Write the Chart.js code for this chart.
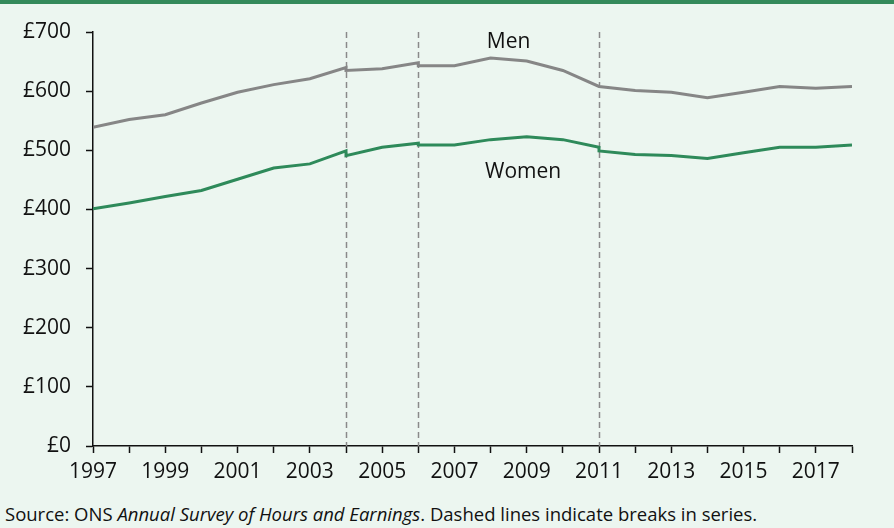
<!DOCTYPE html>
<html>
<head>
<meta charset="utf-8">
<script src="https://cdn.jsdelivr.net/npm/chart.js@4/dist/chart.umd.min.js"></script>
<style>
  html, body { margin: 0; padding: 0; }
  body { width: 894px; height: 528px; background: #ecf6f0; position: relative; overflow: hidden; font-family: 'Open Sans', sans-serif; }
  .topbar { position: absolute; left: 0; top: 0; width: 894px; height: 4px; background: #348a5b; }
  .wrap { position: absolute; left: 0; top: 4px; width: 894px; height: 492px; }
  .source { position: absolute; left: 5px; top: 501px; font-size: 18.5px; color: #111; white-space: nowrap; }
</style>
</head>
<body>
<div class="topbar"></div>
<div class="wrap"><canvas id="line-chart"></canvas></div>
<div class="source">Source: ONS <i>Annual Survey of Hours and Earnings</i>. Dashed lines indicate breaks in series.</div>
<script>
// years repeat where the series has a break (old and new basis)
let years = [1997,1998,1999,2000,2001,2002,2003,2004,2004,2005,2006,2006,2007,2008,2009,2010,2011,2011,2012,2013,2014,2015,2016,2017,2018];
let men   = [539,552,560,580,598,611,621,640,635,638,648,643,643,656,651,635,608,608,601,598,589,598,608,605,608];
let women = [401,411,422,432,451,470,477,499,491,505,512,509,509,518,523,518,505,499,493,491,486,496,505,505,509];
let breakYears = [2004,2006,2011];
let yTicks = [0,100,200,300,400,500,600,700];

let seriesLabels = [
  {text: "Men", x: 2008.5, y: 683},
  {text: "Women", x: 2008.9, y: 463}
];

function points(vals){
  return vals.map(function(v,i){ return {x: years[i], y: v}; });
}

// dashed break lines and the series names
let extras = {
  id: 'extras',
  beforeDatasetsDraw: function(chart){
    let ctx = chart.ctx, xs = chart.scales.x, ys = chart.scales.y;
    ctx.save();
    ctx.strokeStyle = '#8a8a8a';
    ctx.lineWidth = 1.5;
    ctx.setLineDash([6,4]);
    breakYears.forEach(function(yr){
      let px = Math.round(xs.getPixelForValue(yr)) + 0.5;
      ctx.beginPath();
      ctx.moveTo(px, ys.getPixelForValue(700));
      ctx.lineTo(px, ys.getPixelForValue(0));
      ctx.stroke();
    });
    ctx.restore();
  },
  afterDatasetsDraw: function(chart){
    let ctx = chart.ctx, xs = chart.scales.x, ys = chart.scales.y;
    ctx.save();
    ctx.font = "21px 'Open Sans'";
    ctx.fillStyle = '#111';
    ctx.textAlign = 'center';
    ctx.textBaseline = 'middle';
    seriesLabels.forEach(function(l){
      ctx.fillText(l.text, xs.getPixelForValue(l.x), ys.getPixelForValue(l.y));
    });
    ctx.restore();
  }
};

Chart.defaults.font.family = "'Open Sans'";
Chart.defaults.font.size = 21;
Chart.defaults.color = '#111';

new Chart(document.getElementById("line-chart"), {
  type: 'line',
  data: {
    datasets: [{
        data: points(men),
        label: "Men",
        borderColor: "#868686",
        borderWidth: 3,
        pointRadius: 0,
        tension: 0,
        fill: false
      }, {
        data: points(women),
        label: "Women",
        borderColor: "#2e8a5a",
        borderWidth: 3,
        pointRadius: 0,
        tension: 0,
        fill: false
      }
    ]
  },
  options: {
    responsive: true,
    maintainAspectRatio: false,
    animation: false,
    layout: { padding: { left: 0, right: 42, top: 28, bottom: 0 } },
    plugins: { legend: { display: false }, tooltip: { enabled: false } },
    scales: {
      x: {
        type: 'linear',
        min: 1997,
        max: 2018,
        afterFit: function(s){ s.height = 50; },
        afterBuildTicks: function(s){ s.ticks = years.filter(function(y,i){ return years.indexOf(y) === i; }).map(function(y){ return {value: y}; }); },
        ticks: {
          autoSkip: false,
          maxRotation: 0,
          padding: 6,
          callback: function(v){ return ((v - 1997) % 2 === 0 && v < 2018) ? String(v) : ''; }
        },
        grid: { drawOnChartArea: false, tickLength: 7, tickWidth: 1.5, tickColor: '#111' },
        border: { color: '#111', width: 1.5 }
      },
      y: {
        min: 0,
        max: 700,
        afterFit: function(s){ s.width = 93; },
        afterBuildTicks: function(s){ s.ticks = yTicks.map(function(v){ return {value: v}; }); },
        ticks: {
          padding: 15,
          callback: function(v){ return '£' + v; }
        },
        grid: { drawOnChartArea: false, tickLength: 7, tickWidth: 1.5, tickColor: '#111' },
        border: { color: '#111', width: 1.5 }
      }
    }
  },
  plugins: [extras]
});
</script>
</body>
</html>
